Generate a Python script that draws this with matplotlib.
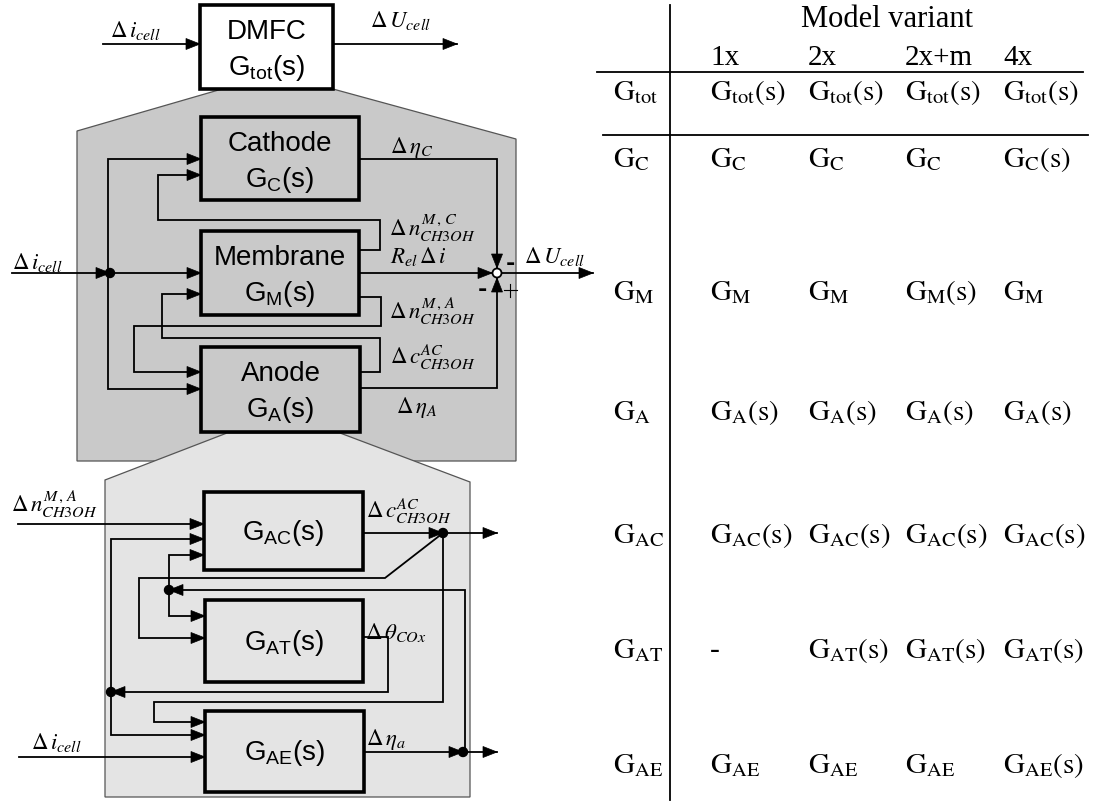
import matplotlib
matplotlib.use("Agg")
import numpy as np
import matplotlib.pyplot as plt
from matplotlib.patches import Polygon, Rectangle, Circle

# table data
variants = ['1x', '2x', '2x+m', '4x']
row_names = ['tot', 'C', 'M', 'A', 'AC', 'AT', 'AE']
cells = [
    ['G_tot(s)', 'G_tot(s)', 'G_tot(s)', 'G_tot(s)'],
    ['G_C', 'G_C', 'G_C', 'G_C(s)'],
    ['G_M', 'G_M', 'G_M(s)', 'G_M'],
    ['G_A(s)', 'G_A(s)', 'G_A(s)', 'G_A(s)'],
    ['G_AC(s)', 'G_AC(s)', 'G_AC(s)', 'G_AC(s)'],
    ['-', 'G_AT(s)', 'G_AT(s)', 'G_AT(s)'],
    ['G_AE', 'G_AE', 'G_AE', 'G_AE(s)'],
]
row_base = [100, 167, 300, 420, 543, 658, 773]
col_x = [710, 808, 905, 1003]

plt.rcParams['mathtext.fontset'] = 'custom'
plt.rcParams['mathtext.rm'] = 'Liberation Sans'
plt.rcParams['mathtext.it'] = 'Liberation Sans:italic'

fig = plt.figure(figsize=(11.06, 8.01), dpi=100)
ax = fig.add_axes([0, 0, 1, 1])
ax.set_xlim(0, 1106)
ax.set_ylim(801, 0)
ax.axis('off')


def head(p0, p1, L=14, W=5.5):
    d = np.array(p1, float) - np.array(p0, float)
    d /= np.hypot(*d)
    n = np.array([-d[1], d[0]])
    tip = np.array(p1, float)
    base = tip - L * d
    ax.add_patch(Polygon([tip, base + W * n, base - W * n], closed=True,
                         fc='k', ec='k', lw=0.5, zorder=5))


def wire(pts, arrow=True, lw=1.3):
    xs, ys = zip(*pts)
    ax.plot(xs, ys, color='k', lw=lw, solid_joinstyle='miter', zorder=4)
    if arrow:
        head(pts[-2], pts[-1])


def dot(x, y, r=4.5):
    ax.add_patch(Circle((x, y), r, fc='k', ec='k', zorder=6))


def block(x0, y0, x1, y1, lines, fc='none'):
    ax.add_patch(Rectangle((x0, y0), x1 - x0, y1 - y0, fc=fc, ec='k',
                           lw=2.6, zorder=3))
    cx = (x0 + x1) / 2
    if len(lines) == 1:
        ax.text(cx, (y0 + y1) / 2 + 2, lines[0], ha='center', va='center',
                fontsize=20, family='Liberation Sans', math_fontfamily='custom', zorder=7)
    else:
        ax.text(cx, y0 + 27, lines[0], ha='center', va='center',
                fontsize=20, family='Liberation Sans', zorder=7)
        ax.text(cx, y0 + 63, lines[1], ha='center', va='center',
                fontsize=20, family='Liberation Sans', math_fontfamily='custom', zorder=7)


def sig(x, y, s, size=16.5):
    ax.text(x, y, s, ha='left', va='center', fontsize=size,
            math_fontfamily='stix', zorder=7)


# background zoom polygons
ax.add_patch(Polygon([(77, 131), (222, 89), (333, 89), (516, 139), (516, 461), (77, 461)],
                     closed=True, fc='#c9c9c9', ec='#555555', lw=0.9, zorder=1))
ax.add_patch(Polygon([(105, 480), (227, 433), (340, 433), (470, 482), (470, 797), (105, 797)],
                     closed=True, fc='#e4e4e4', ec='#555555', lw=0.9, zorder=1))

# top level
block(200, 5, 333, 89, ['DMFC', r'$\mathrm{G}_{\mathrm{tot}}\mathrm{(s)}$'], fc='white')
wire([(103, 44), (200, 44)])
wire([(333, 44), (457, 44)])
sig(110, 30, r'$\Delta\, i_{cell}$')
sig(370, 20, r'$\Delta\, U_{cell}$')

# cell level
block(201, 117, 359, 200, ['Cathode', r'$\mathrm{G}_{\mathrm{C}}\mathrm{(s)}$'])
block(201, 231, 359, 315, ['Membrane', r'$\mathrm{G}_{\mathrm{M}}\mathrm{(s)}$'])
block(201, 347, 360, 432, ['Anode', r'$\mathrm{G}_{\mathrm{A}}\mathrm{(s)}$'])

wire([(12, 273), (110, 273)])
dot(110, 273)
wire([(110, 273), (201, 273)])
wire([(108, 273), (108, 159), (201, 159)])
wire([(108, 273), (108, 389), (201, 389)])
wire([(359, 250), (380, 250), (380, 220), (158, 220), (158, 175), (201, 175)])
wire([(359, 297), (381, 297), (381, 326), (134, 326), (134, 372), (201, 372)])
wire([(360, 372), (380, 372), (380, 338), (162, 338), (162, 294), (201, 294)])
wire([(359, 159), (497, 159), (497, 268)])
wire([(359, 273), (492, 273)])
wire([(360, 388), (497, 388), (497, 278)])
ax.add_patch(Circle((497, 273), 4.5, fc='white', ec='k', lw=1.3, zorder=6))
wire([(502, 273), (593, 273)])
ax.text(510, 264, '-', ha='center', va='center', fontsize=16, fontweight='bold', zorder=7)
ax.text(482, 290, '-', ha='center', va='center', fontsize=16, fontweight='bold', zorder=7)
ax.plot([504, 517], [290, 290], color='k', lw=0.8, zorder=7)
ax.plot([510, 510], [284, 297], color='k', lw=0.8, zorder=7)

sig(12, 262, r'$\Delta\, i_{cell}$')
sig(390, 148, r'$\Delta\, \eta_{C}$')
sig(389, 228, r'$\Delta\, n^{M\,,\,C}_{CH3OH}$')
sig(390, 256, r'$R_{el}\,\Delta\, i$')
sig(524, 256, r'$\Delta\, U_{cell}$')
sig(389, 312, r'$\Delta\, n^{M\,,\,A}_{CH3OH}$')
sig(390, 357, r'$\Delta\, c^{AC}_{CH3OH}$')
sig(396, 407, r'$\Delta\, \eta_{A}$')

# anode level
block(204, 492, 363, 570, [r'$\mathrm{G}_{\mathrm{AC}}\mathrm{(s)}$'])
block(205, 600, 363, 682, [r'$\mathrm{G}_{\mathrm{AT}}\mathrm{(s)}$'])
block(205, 711, 364, 792, [r'$\mathrm{G}_{\mathrm{AE}}\mathrm{(s)}$'])

wire([(18, 524), (204, 524)])
wire([(19, 757), (205, 757)])
# delta c output
wire([(363, 533), (443, 533)])
dot(443, 533)
wire([(443, 533), (497, 533)])
wire([(443, 533), (385, 578), (139, 578), (139, 638), (205, 638)])
wire([(443, 533), (443, 702), (154, 702), (154, 722), (205, 722)])
# theta output
wire([(363, 637), (388, 637), (388, 692), (111, 692)])
dot(111, 692)
wire([(111, 692), (111, 539), (204, 539)])
wire([(111, 692), (111, 735), (205, 735)])
# eta output
wire([(364, 752), (463, 752)])
dot(463, 752)
wire([(463, 752), (497, 752)])
wire([(465, 752), (465, 590), (169, 590)])
dot(169, 590)
wire([(169, 590), (169, 555), (204, 555)])
wire([(169, 590), (169, 616), (205, 616)])

sig(11, 505, r'$\Delta\, n^{M\,,\,A}_{CH3OH}$')
sig(366, 511, r'$\Delta\, c^{AC}_{CH3OH}$')
sig(365, 632, r'$\Delta\, \theta_{COx}$')
sig(366, 740, r'$\Delta\, \eta_{a}$')
sig(31, 742, r'$\Delta\, i_{cell}$')

# table
tfs = 21


def gtext(s):
    if s == '-':
        return '-'
    name, sub = s.split('_')
    tail = ''
    if sub.endswith('(s)'):
        sub = sub[:-3]
        tail = r'\mathrm{(s)}'
    return r'$\mathrm{G}_{\mathrm{%s}}%s$' % (sub, tail)


ax.plot([670, 670], [5, 800], color='k', lw=1.3)
ax.plot([597, 1083], [72, 72], color='k', lw=1.3)
ax.plot([603, 1088], [135, 135], color='k', lw=1.3)
ax.text(887, 27, 'Model variant', ha='center', va='baseline', fontsize=22,
        family='Liberation Serif')
for x, v in zip(col_x, variants):
    ax.text(x, 65, v, ha='left', va='baseline', fontsize=tfs, family='Liberation Serif')
for name, yb, row in zip(row_names, row_base, cells):
    ax.text(613, yb, gtext('G_' + name), ha='left', va='baseline', fontsize=tfs,
            math_fontfamily='stix', family='Liberation Serif')
    for x, c in zip(col_x, row):
        ax.text(x, yb, gtext(c), ha='left', va='baseline', fontsize=tfs,
                math_fontfamily='stix', family='Liberation Serif')

fig.savefig('out.png', dpi=100)
